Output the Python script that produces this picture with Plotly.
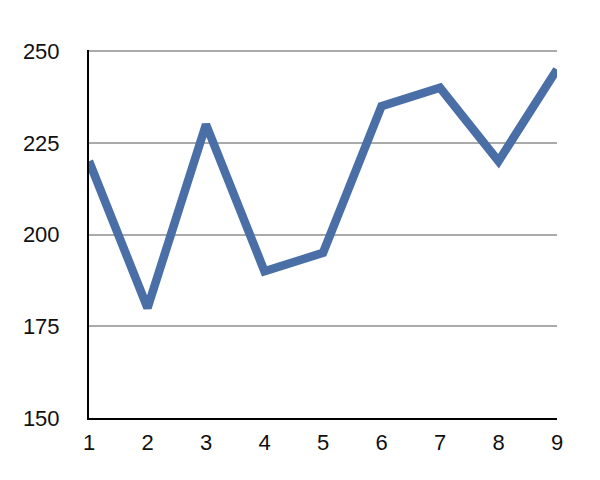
import plotly.graph_objects as go

x_vals = [1, 2, 3, 4, 5, 6, 7, 8, 9]
y_vals = [220, 180, 230, 190, 195, 235, 240, 220, 245]
y_ticks = [150, 175, 200, 225, 250]

fig = go.Figure()
fig.add_trace(go.Scatter(
    x=x_vals, y=y_vals, mode="lines",
    line=dict(color="#4a6ea6", width=8.5),
    cliponaxis=True,
))

# page body has an 8px margin, so the figure is sized/offset to compensate
fig.update_layout(
    width=592, height=472,
    margin=dict(l=81, r=43, t=42, b=62),
    paper_bgcolor="white", plot_bgcolor="white",
    showlegend=False,
    font=dict(family="Liberation Sans, Arial, Helvetica", size=22, color="#111"),
)
fig.update_xaxes(
    range=[1, 9], tickvals=x_vals, showgrid=False, zeroline=False,
    showline=True, linecolor="black", linewidth=2,
    ticks="outside", ticklen=0, ticklabelstandoff=4,
)
fig.update_yaxes(
    range=[150, 250.3], tickvals=y_ticks, showgrid=True, gridcolor="#aaaaaa", gridwidth=2,
    zeroline=False, showline=True, linecolor="black", linewidth=2,
    ticks="outside", ticklen=0, ticklabelstandoff=23,
)

fig.write_html("out.html")
